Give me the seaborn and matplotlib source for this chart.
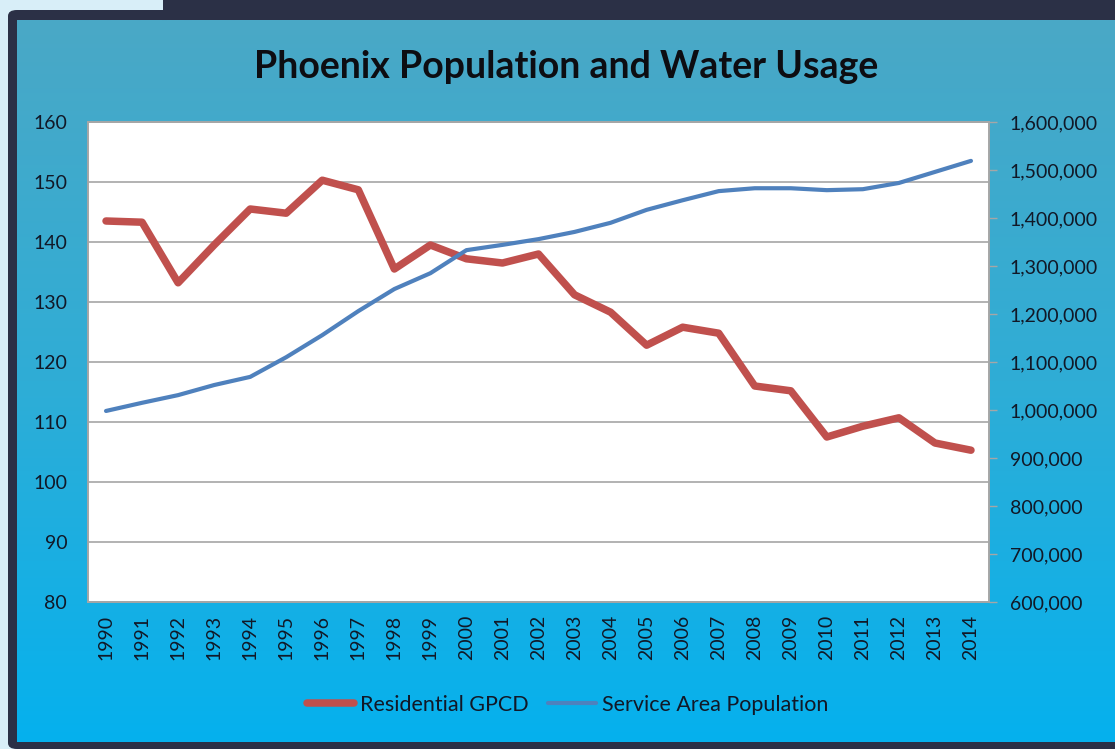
import numpy as np
import pandas as pd
import matplotlib
matplotlib.use("Agg")
import matplotlib.pyplot as plt
from matplotlib.patches import Rectangle, FancyBboxPatch
from matplotlib.colors import LinearSegmentedColormap
from matplotlib.ticker import FuncFormatter
import seaborn as sns

years = list(range(1990, 2015))
gpcd = [143.5, 143.3, 133.2, 139.5, 145.5, 144.8, 150.3, 148.7, 135.5, 139.5,
        137.2, 136.5, 138.0, 131.2, 128.3, 122.8, 125.8, 124.8, 116.0, 115.2,
        107.5, 109.3, 110.7, 106.5, 105.3]
population = [998000, 1015000, 1031000, 1052000, 1069000, 1110000, 1156000, 1206000,
              1252000, 1285000, 1333000, 1344000, 1356000, 1371000, 1390000, 1417000,
              1437000, 1456000, 1462000, 1462000, 1458000, 1460000, 1473000, 1496000,
              1519000]
left_ticks = list(range(80, 161, 10))
right_ticks = list(range(600000, 1600001, 100000))

df = pd.DataFrame({"year": years, "gpcd": gpcd, "population": population})

sns.set_theme(style="white")
plt.rcParams["font.family"] = ["Lato", "DejaVu Sans"]

RED = "#c0504d"
BLUE = "#4f81bd"
TXT = "#111827"

W, H = 1115, 749
fig = plt.figure(figsize=(W / 100, H / 100), dpi=100)
fig.patch.set_facecolor("#d8eef8")

# dark frame
fig.add_artist(Rectangle((163 / W, 0), 1, 1, transform=fig.transFigure,
                         facecolor="#2b3046", edgecolor="none", zorder=0))
fig.add_artist(FancyBboxPatch((8 / W, 0), 1.1, 1 - 10 / H, transform=fig.transFigure,
                              boxstyle="round,pad=0,rounding_size=0.008",
                              facecolor="#2b3046", edgecolor="none", zorder=0))

# gradient panel
bg = fig.add_axes([17 / W, 7 / H, (W - 17) / W, (H - 20 - 7) / H], zorder=0.5)
cmap = LinearSegmentedColormap.from_list("bg", ["#4aa8c6", "#2fadd6", "#05b1ee"])
bg.imshow(np.linspace(0, 1, 256).reshape(-1, 1), aspect="auto", cmap=cmap,
          extent=[0, 1, 0, 1], origin="upper")
bg.set_axis_off()

ax = fig.add_axes([88 / W, 1 - 602 / H, 901 / W, 480 / H], zorder=2)
ax.set_facecolor("white")
ax2 = ax.twinx()

sns.lineplot(data=df, x="year", y="gpcd", ax=ax, color=RED, linewidth=5.4,
             label="Residential GPCD", legend=False, zorder=3)
sns.lineplot(data=df, x="year", y="population", ax=ax2, color=BLUE, linewidth=3,
             label="Service Area Population", legend=False, zorder=3)

ax.set_ylim(80, 160)
ax.set_yticks(left_ticks)
ax2.set_ylim(600000, 1600000)
ax2.set_yticks(right_ticks)
ax2.yaxis.set_major_formatter(FuncFormatter(lambda v, p: f"{int(v):,}"))
ax.set_xlim(1989.5, 2014.5)
ax.set_xticks(years)
ax.set_xticklabels([str(y) for y in years], rotation=90)

ax.grid(axis="y", color="#a6a6a6", linewidth=1.2)
ax.grid(axis="x", visible=False)
ax.set_xlabel("")
ax.set_ylabel("")
ax2.set_ylabel("")
ax2.grid(False)

for a in (ax, ax2):
    for s in a.spines.values():
        s.set_color("#a6a6a6")
        s.set_linewidth(1.2)

ax.tick_params(axis="y", labelsize=14, colors=TXT, length=0, pad=15)
ax.tick_params(axis="x", labelsize=14, colors=TXT, length=0, pad=9)
ax2.tick_params(axis="y", labelsize=14, labelcolor=TXT, color="#a6a6a6",
                length=6, width=1, direction="out", pad=9, right=True)

fig.text(0.508, 1 - 67 / H, "Phoenix Population and Water Usage", ha="center",
         va="center", fontsize=27, fontweight="bold", color="#0d0d12")

h1, l1 = ax.get_legend_handles_labels()
h2, l2 = ax2.get_legend_handles_labels()
leg = fig.legend(h1 + h2, l1 + l2, loc="center", bbox_to_anchor=(0.509, 1 - 705 / H),
                 ncol=2, frameon=False, fontsize=15.5, handlelength=2.2,
                 handletextpad=0.3, columnspacing=0.9)
for t in leg.get_texts():
    t.set_color(TXT)

fig.savefig("out.png", dpi=100)
